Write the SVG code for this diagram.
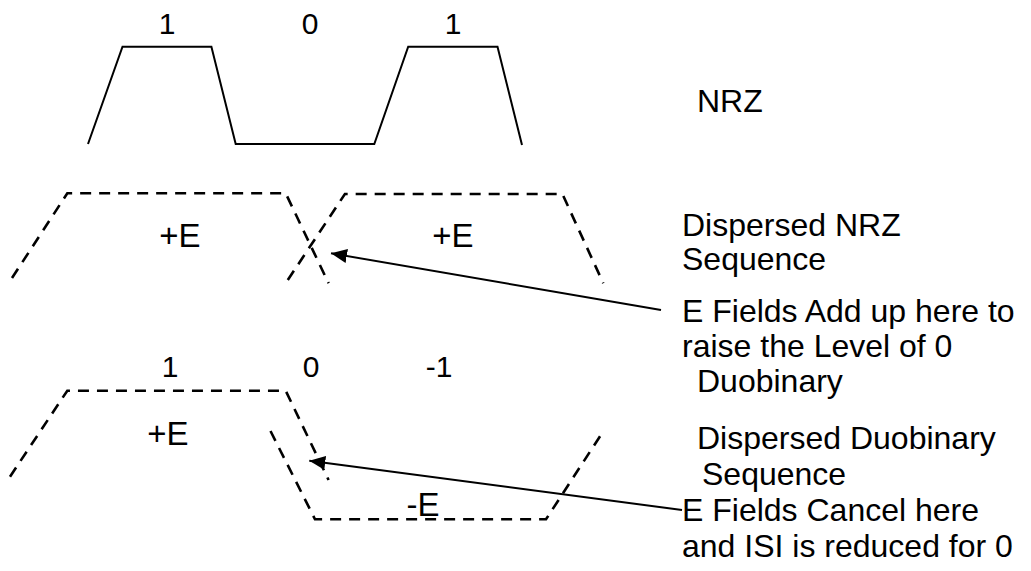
<svg xmlns="http://www.w3.org/2000/svg" width="1031" height="571" viewBox="0 0 1031 571">
<style>
text{font-family:"Liberation Sans",Arial,sans-serif;fill:#000}
.lbl{font-size:32px}
.bit{font-size:30px;text-anchor:middle}
.fld{font-size:33px;text-anchor:middle}
.solid{fill:none;stroke:#000;stroke-width:2}
.dash{fill:none;stroke:#000;stroke-width:2.6;stroke-dasharray:11 8}
.arr{fill:none;stroke:#000;stroke-width:2;marker-end:url(#ah)}
</style>
<defs>
<marker id="ah" markerUnits="userSpaceOnUse" markerWidth="18" markerHeight="14" refX="16" refY="7" orient="auto">
<path d="M0,0 L16,7 L0,14 Z" fill="#000"/>
</marker>
</defs>
<rect width="1031" height="571" fill="#fff"/>
<g id="nrz">
<path class="solid" d="M88,144 L122.5,46.7 L211.4,46.7 L235.7,144 L374.3,144 L408.2,46.7 L497.5,46.7 L522,145"/>
<text class="bit" x="167" y="34">1</text>
<text class="bit" x="310" y="34">0</text>
<text class="bit" x="453" y="34">1</text>
<text class="lbl" x="697" y="112">NRZ</text>
</g>
<g id="dispersed-nrz">
<path class="dash" d="M12,278 L67.3,193.3 L285.7,193.3 L328.6,283.3"/>
<path class="dash" d="M287.8,280 L344.9,194 L562.4,194 L603.3,283.3"/>
<text class="fld" x="180" y="247">+E</text>
<text class="fld" x="453" y="247">+E</text>
<text class="lbl" x="682" y="236">Dispersed NRZ</text>
<text class="lbl" x="682" y="270">Sequence</text>
</g>
<g id="note-add">
<text class="lbl" x="682" y="322">E Fields Add up here to</text>
<text class="lbl" x="682" y="357">raise the Level of 0</text>
<text class="lbl" x="697" y="392">Duobinary</text>
</g>
<g id="dispersed-duobinary">
<path class="dash" d="M10,476.7 L67.3,390.7 L285.7,390.7 L328.6,480"/>
<path class="dash" d="M270.5,431 L315,519.3 L546,519.3 L603,431.7"/>
<text class="bit" x="170" y="377">1</text>
<text class="bit" x="311" y="377">0</text>
<text class="bit" x="439" y="377">-1</text>
<text class="fld" x="168" y="445">+E</text>
<text class="fld" x="423" y="516">-E</text>
<text class="lbl" x="697" y="449">Dispersed Duobinary</text>
<text class="lbl" x="702" y="485">Sequence</text>
</g>
<g id="note-cancel">
<text class="lbl" x="682" y="521">E Fields Cancel here</text>
<text class="lbl" x="682" y="557">and ISI is reduced for 0</text>
</g>
<g id="connectors">
<line class="arr" x1="661" y1="310" x2="331" y2="253.3"/>
<line class="arr" x1="682" y1="510" x2="309.3" y2="460.7"/>
</g>
</svg>
